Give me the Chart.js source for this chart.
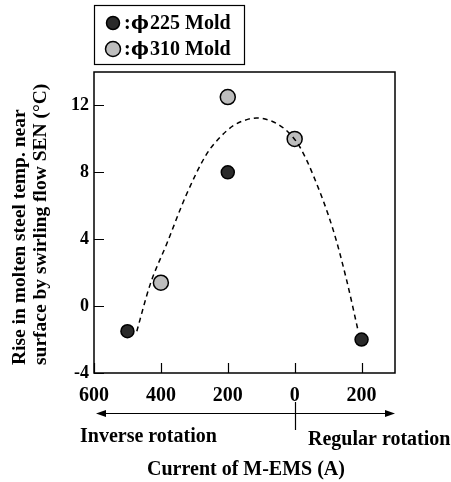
<!DOCTYPE html>
<html><head><meta charset="utf-8">
<script src="https://cdn.jsdelivr.net/npm/chart.js@4.4.1/dist/chart.umd.min.js"></script>
<style>html,body{margin:0;padding:0;background:#fff}#wrap{position:relative;width:451px;height:482px}</style>
</head><body><div id="wrap"><canvas id="c" width="451" height="482"></canvas></div>
<script>
const xTicks = [-600, -400, -200, 0, 200];
const yTicks = [-4, 0, 4, 8, 12];
const mold225X = [-500, -200, 200];
const mold225Y = [-1.5, 8, -2];
const mold310X = [-400, -200, 0];
const mold310Y = [1.4, 12.5, 10];
const curveX = [-472, -432, -383, -323, -263, -223, -183, -143, -114, -74, -44, -14, 16, 56, 116, 156, 190];
const curveY = [-1.5, 1.3, 3.7, 6.7, 9.1, 10.1, 10.8, 11.15, 11.25, 11.1, 10.8, 10.3, 9.5, 7.8, 4.5, 1.5, -1.5];
const legendLabels = ['225 Mold', '310 Mold'];
const legendSep = ':';
const legendPhi = '\u03D5';
const yTitle = ['Rise in molten steel temp. near', 'surface by swirling flow SEN (\u00B0C)'];
const xTitle = 'Current of M-EMS (A)';
const dirLabels = ['Inverse rotation', 'Regular rotation'];

const FONT = '"Liberation Serif", "Times New Roman", serif';
const pts = (xs, ys) => xs.map((x, i) => ({x: x, y: ys[i]}));

const decor = {
  id: 'decor',
  afterDraw(chart) {
    const ctx = chart.ctx, a = chart.chartArea;
    const xs = chart.scales.x, ys = chart.scales.y;
    ctx.save();
    ctx.strokeStyle = '#000';
    ctx.fillStyle = '#000';
    ctx.lineWidth = 1.5;
    // frame
    ctx.strokeRect(a.left, a.top, a.right - a.left, a.bottom - a.top);
    // inward ticks
    ctx.lineWidth = 1.2;
    ctx.beginPath();
    xTicks.forEach(v => { const px = Math.round(xs.getPixelForValue(v)) + 0.5; ctx.moveTo(px, a.bottom); ctx.lineTo(px, a.bottom - 10); });
    yTicks.forEach(v => { const py = Math.round(ys.getPixelForValue(v)) + 0.5; ctx.moveTo(a.left, py); ctx.lineTo(a.left + 10, py); });
    ctx.stroke();
    // legend
    ctx.lineWidth = 1.2;
    ctx.strokeRect(94.5, 5.5, 150, 59);
    const mk = [[113, 23, 6.5, '#2a2a2a'], [113, 49, 7.5, '#bdbdbd']];
    mk.forEach(m => { ctx.beginPath(); ctx.arc(m[0], m[1], m[2], 0, Math.PI * 2); ctx.fillStyle = m[3]; ctx.fill(); ctx.lineWidth = 1.5; ctx.strokeStyle = '#000'; ctx.stroke(); });
    ctx.fillStyle = '#000';
    ctx.textAlign = 'left'; ctx.textBaseline = 'middle';
    [24, 50].forEach((yy, i) => {
      ctx.font = 'bold 20px ' + FONT;
      ctx.fillText(legendSep, 124, yy);
      ctx.font = 'bold 19px "DejaVu Serif", serif';
      ctx.fillText(legendPhi, 131, yy);
      ctx.font = 'bold 20px ' + FONT;
      ctx.fillText(legendLabels[i], 150, yy);
    });
    // y title
    ctx.font = 'bold 19.5px ' + FONT;
    [[20, 365], [41, 365]].forEach((p, i) => {
      ctx.save(); ctx.translate(p[0], p[1]); ctx.rotate(-Math.PI / 2);
      ctx.textAlign = 'left'; ctx.textBaseline = 'middle';
      ctx.fillText(yTitle[i], 0, 0); ctx.restore();
    });
    // direction arrow
    const ay = 413.5, l = a.left + 2, r = a.right, zx = Math.round(xs.getPixelForValue(0)) + 0.5;
    ctx.lineWidth = 1.2;
    ctx.beginPath(); ctx.moveTo(l + 6, ay); ctx.lineTo(r - 6, ay); ctx.moveTo(zx, 402); ctx.lineTo(zx, 430); ctx.stroke();
    ctx.beginPath(); ctx.moveTo(l, ay); ctx.lineTo(l + 10, ay - 3.5); ctx.lineTo(l + 10, ay + 3.5); ctx.closePath(); ctx.fill();
    ctx.beginPath(); ctx.moveTo(r, ay); ctx.lineTo(r - 10, ay - 3.5); ctx.lineTo(r - 10, ay + 3.5); ctx.closePath(); ctx.fill();
    ctx.font = 'bold 20px ' + FONT;
    ctx.textBaseline = 'middle';
    ctx.textAlign = 'left';
    ctx.fillText(dirLabels[0], 80, 437);
    ctx.fillText(dirLabels[1], 308, 440);
    ctx.textAlign = 'center';
    ctx.fillText(xTitle, 246, 470);
    ctx.restore();
  }
};

new Chart(document.getElementById('c'), {
  type: 'scatter',
  data: {
    datasets: [
      { label: 'fit', data: pts(curveX, curveY), showLine: true, borderColor: '#000', borderWidth: 1.5,
        borderDash: [5, 4], pointRadius: 0, cubicInterpolationMode: 'monotone', fill: false },
      { label: legendLabels[0], data: pts(mold225X, mold225Y), pointRadius: 6.5, pointHoverRadius: 6.5,
        backgroundColor: '#2a2a2a', borderColor: '#000', borderWidth: 1.5 },
      { label: legendLabels[1], data: pts(mold310X, mold310Y), pointRadius: 7.5, pointHoverRadius: 7.5,
        backgroundColor: '#bdbdbd', borderColor: '#000', borderWidth: 1.5 }
    ]
  },
  options: {
    responsive: false, animation: false, devicePixelRatio: 1,
    layout: { padding: { top: 72, right: 56, left: 0, bottom: 0 } },
    plugins: { legend: { display: false }, tooltip: { enabled: false } },
    scales: {
      x: {
        type: 'linear', min: -600, max: 300,
        afterBuildTicks: s => { s.ticks = xTicks.map(v => ({ value: v })); },
        afterFit: s => { s.height = 109; },
        grid: { display: true, drawOnChartArea: false, drawTicks: false },
        border: { display: false },
        ticks: { padding: 11, color: '#000', font: { family: FONT, size: 20, weight: 'bold' },
                 callback: v => String(Math.abs(v)), maxRotation: 0, autoSkip: false }
      },
      y: {
        type: 'linear', min: -4, max: 14,
        afterBuildTicks: s => { s.ticks = yTicks.map(v => ({ value: v })); },
        afterFit: s => { s.width = 94; },
        grid: { display: true, drawOnChartArea: false, drawTicks: false },
        border: { display: false },
        ticks: { padding: 5, color: '#000', font: { family: FONT, size: 18, weight: 'bold' }, autoSkip: false }
      }
    }
  },
  plugins: [decor]
});
</script></body></html>
